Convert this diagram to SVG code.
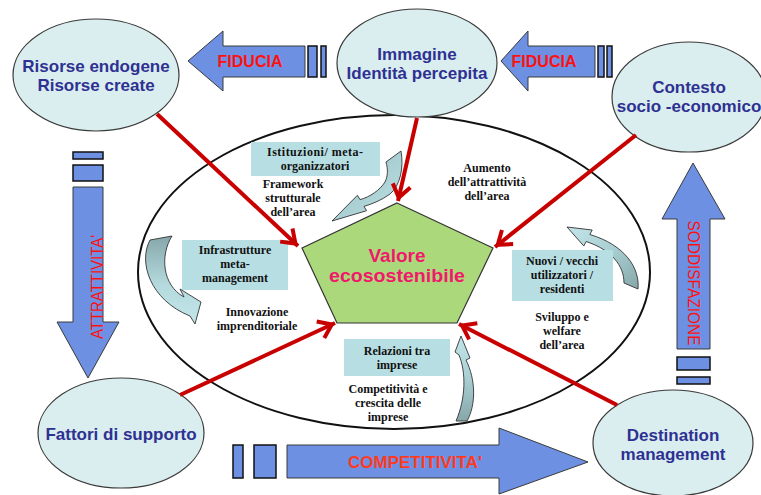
<svg xmlns="http://www.w3.org/2000/svg" width="761" height="495" viewBox="0 0 761 495">
<style>
.node{fill:#daedef;stroke:#3a3a3a;stroke-width:1.2}
.nt{font-family:"Liberation Sans",Arial,sans-serif;font-weight:bold;font-size:17px;fill:#2e3192;text-anchor:middle}
.blue{fill:#6d90e3;stroke:#3a3a3a;stroke-width:1}
.bar{fill:#6d90e3;stroke:#111;stroke-width:1.5}
.box{fill:#b7dfe3}
.st{font-family:"Liberation Serif","Times New Roman",serif;font-weight:bold;font-size:12px;fill:#111;text-anchor:middle}
.red{fill:none;stroke:#c80000;stroke-width:4;marker-end:url(#ah)}
.lab{font-family:"Liberation Sans",Arial,sans-serif;fill:#ff1010;text-anchor:middle}
.curv{stroke:#333;stroke-width:0.9}
</style>
<defs>
<marker id="ah" markerUnits="userSpaceOnUse" markerWidth="24" markerHeight="24" viewBox="-20 -12 24 24" refX="0" refY="0" orient="auto">
<path d="M-16,-9 L-3.5,0 L-16,9" fill="none" stroke="#c80000" stroke-width="4"/>
</marker>
<linearGradient id="g1" x1="0" y1="0" x2="1" y2="1"><stop offset="0" stop-color="#86a7aa"/><stop offset="0.5" stop-color="#a9cfd3"/><stop offset="1" stop-color="#bfe3e7"/></linearGradient>
<linearGradient id="g2" x1="0" y1="0" x2="0" y2="1"><stop offset="0" stop-color="#86a7aa"/><stop offset="0.55" stop-color="#b4dade"/><stop offset="1" stop-color="#c2e5e9"/></linearGradient>
<linearGradient id="g3" x1="1" y1="1" x2="0" y2="0"><stop offset="0" stop-color="#86a7aa"/><stop offset="0.5" stop-color="#a9cfd3"/><stop offset="1" stop-color="#c2e5e9"/></linearGradient>
<linearGradient id="g4" x1="0" y1="1" x2="0" y2="0"><stop offset="0" stop-color="#86a7aa"/><stop offset="0.5" stop-color="#a9cfd3"/><stop offset="1" stop-color="#c2e5e9"/></linearGradient>
</defs>
<rect width="761" height="495" fill="#ffffff"/>

<g id="big-ellipse">
<ellipse cx="394" cy="272" rx="256" ry="157" fill="none" stroke="#111" stroke-width="2"/>
</g>

<g id="blue-arrows">
<g id="fiducia-left">
<path class="blue" d="M188,61 L223,31 L223,46 L305,46 L305,77 L223,77 L223,91 Z"/>
<rect class="bar" x="308" y="46" width="9" height="31"/>
<rect class="bar" x="321" y="46" width="5" height="31"/>
<text class="lab" x="250" y="67" font-size="16" font-weight="bold">FIDUCIA</text>
</g>
<g id="fiducia-right">
<path class="blue" d="M501,61 L528,31 L528,46 L595,46 L595,77 L528,77 L528,91 Z"/>
<rect class="bar" x="598" y="46" width="6" height="31"/>
<rect class="bar" x="607" y="46" width="5" height="31"/>
<text class="lab" x="544" y="67" font-size="16" font-weight="bold">FIDUCIA</text>
</g>
<g id="attrattivita">
<rect class="bar" x="73" y="152" width="30" height="7"/>
<rect class="bar" x="73" y="165" width="30" height="16"/>
<path class="blue" d="M73,187 L103,187 L103,322 L119,322 L88,378 L57,322 L73,322 Z"/>
<text class="lab" transform="translate(103,287) rotate(-90)" font-size="16" textLength="104" lengthAdjust="spacingAndGlyphs">ATTRATTIVITA'</text>
</g>
<g id="soddisfazione">
<path class="blue" d="M693,163 L725,219 L710,219 L710,349 L677,349 L677,219 L662,219 Z"/>
<rect class="bar" x="677" y="357" width="33" height="13"/>
<rect class="bar" x="677" y="377" width="33" height="7"/>
<text class="lab" transform="translate(688,283) rotate(90)" font-size="16" textLength="125" lengthAdjust="spacingAndGlyphs">SODDISFAZIONE</text>
</g>
<g id="competitivita">
<rect class="bar" x="233" y="445" width="10" height="33"/>
<rect class="bar" x="254" y="445" width="22" height="33"/>
<path class="blue" d="M287,445 L499,445 L499,428 L588,462 L499,494 L499,478 L287,478 Z"/>
<text class="lab" x="415" y="468" font-size="17" font-weight="bold" style="fill:#ff3b1f">COMPETITIVITA'</text>
</g>
</g>

<g id="curved-arrows">
<path class="curv" fill="url(#g1)" d="M386,162 L401,151 C404,168 400,186 390,194 C382,200 372,204 364,206.4 L366.6,210.7 L332,221 L357.4,195.3 L360,199.6 C370,197 380,190 385,182 C388,176 388,169 386,162 Z"/>
<path class="curv" fill="url(#g2)" d="M150,240 L172,236 C160,255 162,285 184,297 L180,289 L201,302 L195,324 L190,316 C150,300 138,262 150,240 Z"/>
<path class="curv" fill="url(#g3)" d="M624,283 L638,289 C640,268 625,245 589.9,234.5 L592.2,230 L567,227 L583.8,246 L586.1,241.5 C612,250 624,266 624,283 Z"/>
<path class="curv" fill="url(#g4)" d="M456,421 L467,421 C476,405 476,380 466,360 L470,358 L461,336 L455,352 L459,355 C466,372 466,398 456,421 Z"/>
</g>

<g id="valore">
<polygon points="397,203 493,248 457,323 337,323 302,248" fill="#acd87c" stroke="#333" stroke-width="1.2"/>
<text x="397" y="262" font-family="Liberation Sans, Arial, sans-serif" font-weight="bold" font-size="19" fill="#f0196a" text-anchor="middle">Valore</text>
<text x="397" y="282" font-family="Liberation Sans, Arial, sans-serif" font-weight="bold" font-size="19" fill="#f0196a" text-anchor="middle" textLength="136" lengthAdjust="spacingAndGlyphs">ecosostenibile</text>
</g>

<g id="labels">
<g id="istituzioni">
<rect class="box" x="251" y="142" width="129" height="34"/>
<text class="st" x="315" y="156" textLength="96" lengthAdjust="spacing">Istituzioni/ meta-</text>
<text class="st" x="315" y="170">organizzatori</text>
</g>
<g id="framework">
<text class="st" x="293" y="188">Framework</text>
<text class="st" x="293" y="202">strutturale</text>
<text class="st" x="293" y="216">dell’area</text>
</g>
<g id="infrastrutture">
<rect class="box" x="182" y="240" width="106" height="50"/>
<text class="st" x="235" y="254">Infrastrutture</text>
<text class="st" x="235" y="268">meta-</text>
<text class="st" x="235" y="282">management</text>
</g>
<g id="innovazione">
<text class="st" x="257" y="316">Innovazione</text>
<text class="st" x="257" y="330">imprenditoriale</text>
</g>
<g id="relazioni">
<rect class="box" x="344" y="339" width="106" height="37"/>
<text class="st" x="397" y="355">Relazioni tra</text>
<text class="st" x="397" y="369">imprese</text>
</g>
<g id="competitivita-lbl">
<text class="st" x="388" y="393">Competitività e</text>
<text class="st" x="388" y="407">crescita delle</text>
<text class="st" x="388" y="421">imprese</text>
</g>
<g id="aumento">
<text class="st" x="487" y="172">Aumento</text>
<text class="st" x="487" y="186">dell’attrattività</text>
<text class="st" x="487" y="200">dell’area</text>
</g>
<g id="nuovi">
<rect class="box" x="512" y="250" width="101" height="51"/>
<text class="st" x="562" y="265">Nuovi / vecchi</text>
<text class="st" x="562" y="279">utilizzatori /</text>
<text class="st" x="562" y="293">residenti</text>
</g>
<g id="sviluppo">
<text class="st" x="562" y="321">Sviluppo e</text>
<text class="st" x="562" y="335">welfare</text>
<text class="st" x="562" y="349">dell’area</text>
</g>
</g>

<g id="risorse">
<ellipse class="node" cx="96" cy="75" rx="83" ry="56"/>
<text class="nt" x="96" y="72">Risorse endogene</text>
<text class="nt" x="96" y="91">Risorse create</text>
</g>
<g id="immagine">
<ellipse class="node" cx="417" cy="63" rx="80" ry="54"/>
<text class="nt" x="417" y="60">Immagine</text>
<text class="nt" x="417" y="79">Identità percepita</text>
</g>
<g id="contesto">
<ellipse class="node" cx="689" cy="97" rx="77" ry="55"/>
<text class="nt" x="689" y="93">Contesto</text>
<text class="nt" x="689" y="112">socio -economico</text>
</g>
<g id="fattori">
<ellipse class="node" cx="121" cy="433" rx="83" ry="55"/>
<text class="nt" x="121" y="440">Fattori di supporto</text>
</g>
<g id="destination">
<ellipse class="node" cx="673" cy="443" rx="80" ry="53"/>
<text class="nt" x="673" y="441">Destination</text>
<text class="nt" x="673" y="460">management</text>
</g>

<g id="connectors">
<line class="red" x1="157" y1="114" x2="298" y2="246"/>
<line class="red" x1="417" y1="118" x2="398" y2="201"/>
<line class="red" x1="636" y1="135" x2="495" y2="247"/>
<line class="red" x1="180" y1="395" x2="335" y2="323"/>
<line class="red" x1="617" y1="405" x2="459" y2="324"/>
</g>
</svg>
